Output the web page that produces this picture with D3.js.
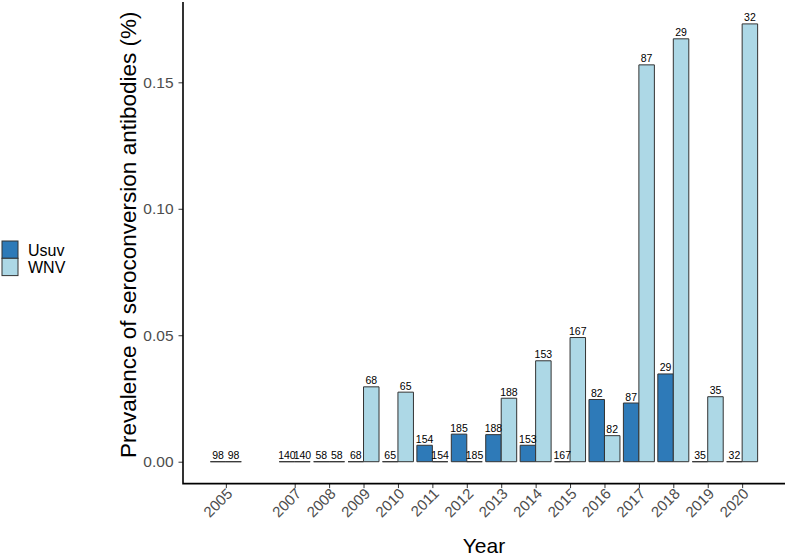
<!DOCTYPE html>
<html><head><meta charset="utf-8">
<script src="https://cdn.jsdelivr.net/npm/d3@7"></script>
<style>body{margin:0;background:#fff;} svg{display:block;font-family:"Liberation Sans",Arial,sans-serif;}</style>
</head><body><svg id="c" width="787" height="557"></svg>
<script>
const years = [2005,2007,2008,2009,2010,2011,2012,2013,2014,2015,2016,2017,2018,2019,2020];
const sampleSizes = [98,140,58,68,65,154,185,188,153,167,82,87,29,35,32];
const usuv = [0,0,0,0,0,0.0065,0.0109,0.0107,0.0065,0,0.0246,0.0232,0.0347,0,0];
const wnv  = [0,0,0,0.0296,0.0275,0,0,0.0251,0.0399,0.0491,0.0103,0.1569,0.1672,0.0257,0.1731];
const seriesNames = ["Usuv","WNV"];
const colors = ["#2e7ab8","#add8e6"];
const yTicks = [0,0.05,0.10,0.15];

const svg = d3.select("#c");
const L=183, R=785, T=2, B=483.6;
const bw = 0.9;
const x0 = 2005-bw/2, x1 = 2020+bw/2, xe=(x1-x0)*0.05;
const x = d3.scaleLinear().domain([x0-xe, x1+xe]).range([L,R]);
const ymax = d3.max(wnv.concat(usuv));
const y = d3.scaleLinear().domain([-ymax*0.05, ymax*1.05]).range([B,T]);

const data = [];
years.forEach((yr,i)=>{
  [usuv[i], wnv[i]].forEach((v,s)=>{
    data.push({year:yr, s, v, n:sampleSizes[i]});
  });
});
const half = bw/2;
const g = svg.append("g");
g.selectAll("path.bar").data(data).enter().append("path")
  .attr("d", d=>{
    const xa = x(d.year - half + d.s*half), w = x(d.year+half)-x(d.year);
    const yt = y(d.v), yb = y(0);
    return `M${xa},${yb}V${yt}H${xa+w}V${yb}Z`;
  })
  .attr("fill", d=>colors[d.s])
  .attr("stroke","#333").attr("stroke-width",1);
g.selectAll("text.lab").data(data).enter().append("text")
  .attr("x", d=>x(d.year - half + d.s*half + half/2))
  .attr("y", d=>y(d.v)-2.5)
  .attr("text-anchor","middle").attr("font-size",10.5).attr("fill","#000")
  .text(d=>d.n);

// axes
const yAxis = d3.axisLeft(y).tickValues(yTicks).tickFormat(d3.format(".2f")).tickSize(4.5).tickPadding(5);
const ya = svg.append("g").attr("transform",`translate(${L},0)`).call(yAxis);
ya.select(".domain").remove();
ya.selectAll("line").attr("stroke","#333").attr("stroke-width",1);
ya.selectAll("text").attr("font-size",15.5).attr("fill","#4d4d4d").attr("font-family","Liberation Sans, Arial, sans-serif");

const xAxis = d3.axisBottom(x).tickValues(years).tickFormat(d3.format("d")).tickSize(4.5).tickPadding(2);
const xa = svg.append("g").attr("transform",`translate(0,${B})`).call(xAxis);
xa.select(".domain").remove();
xa.selectAll("line").attr("stroke","#333").attr("stroke-width",1);
xa.selectAll("text").attr("font-size",15).attr("fill","#4d4d4d").attr("font-family","Liberation Sans, Arial, sans-serif")
  .attr("text-anchor","end").attr("dy",null).attr("transform","translate(7,11) rotate(-45)").attr("y",0).attr("x",0);

svg.append("path").attr("d",`M${L},${T}V${B}H${R}`).attr("fill","none").attr("stroke","#000").attr("stroke-width",1.6);

svg.append("text").attr("x",(L+R)/2).attr("y",553).attr("text-anchor","middle").attr("font-size",21).text("Year");
svg.append("text").attr("transform",`translate(136,${(T+B)/2 - 8}) rotate(-90)`).attr("text-anchor","middle").attr("font-size",22.5)
  .text("Prevalence of seroconversion antibodies (%)");

// legend
seriesNames.forEach((n,i)=>{
  svg.append("rect").attr("x",2).attr("y",241+i*17.3).attr("width",16).attr("height",17.3)
    .attr("fill",colors[i]).attr("stroke","#333").attr("stroke-width",1);
  svg.append("text").attr("x",28).attr("y",255.5+i*17.3).attr("font-size",16).text(n);
});
</script></body></html>
